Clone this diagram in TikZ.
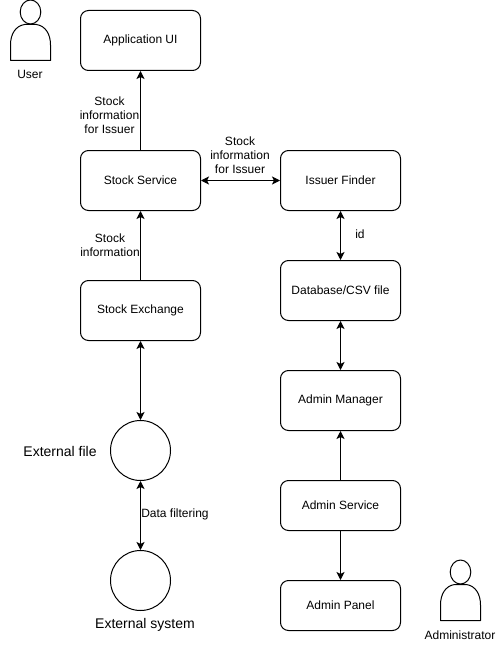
\documentclass[tikz,border=0pt]{standalone}
\usepackage{fontspec}
\setmainfont{Liberation Sans}
\usetikzlibrary{arrows.meta}
\tikzset{
  box/.style={draw=black,line width=1pt,rounded corners=8pt,minimum width=120pt,inner sep=0pt,font=\fontsize{12}{14}\selectfont,fill=white},
  circ/.style={draw=black,line width=1pt,circle,minimum size=60pt,inner sep=0pt},
  lab/.style={font=\fontsize{12}{14}\selectfont,align=center,inner sep=0pt},
  biglab/.style={font=\fontsize{14}{16}\selectfont,align=center,inner sep=0pt},
  conn/.style={line width=1pt,-{Stealth[length=8pt,width=8pt,inset=2pt]}},
  biconn/.style={line width=1pt,{Stealth[length=8pt,width=8pt,inset=2pt]}-{Stealth[length=8pt,width=8pt,inset=2pt]}},
  actorline/.style={draw=black,line width=1pt,line join=round}
}
\newcommand{\actorfig}[2]{%
  \draw[actorline] (#1,#2+12) ellipse (10.3pt and 12pt);
  \draw[actorline] (#1-20,#2+60.5) -- (#1-20,#2+45)
     .. controls (#1-20,#2+34) and (#1-15,#2+26) .. (#1-6,#2+24.5)
     -- (#1+6,#2+24.5)
     .. controls (#1+15,#2+26) and (#1+20,#2+34) .. (#1+20,#2+45)
     -- (#1+20,#2+60.5) -- cycle;
}
\begin{document}
\begin{tikzpicture}[x=1pt,y=-1pt]
\useasboundingbox (0,0) rectangle (496,661);
\fill[white] (0,0) rectangle (496,661);
\begin{scope}[shift={(-0.5,-0.5)}]
\node[box,minimum height=60pt] (ui) at (141,41) {Application UI};
\node[box,minimum height=60pt] (ss) at (141,181) {Stock Service};
\node[box,minimum height=60pt] (se) at (141,311) {Stock Exchange};
\node[box,minimum height=60pt] (if) at (341,181) {Issuer Finder};
\node[box,minimum height=60pt] (db) at (341,291) {Database/CSV file};
\node[box,minimum height=60pt] (am) at (341,401) {Admin Manager};
\node[box,minimum height=50pt] (as) at (341,506) {Admin Service};
\node[box,minimum height=50pt] (ap) at (341,606) {Admin Panel};
\node[circ] (ef) at (141,451) {};
\node[circ] (es) at (141,581) {};
\draw[conn] (ss) -- (ui);
\draw[conn] (se) -- (ss);
\draw[biconn] (ss) -- (if);
\draw[biconn] (if) -- (db);
\draw[biconn] (db) -- (am);
\draw[conn] (as) -- (am);
\draw[conn] (as) -- (ap);
\draw[biconn] (se) -- (ef);
\draw[biconn] (ef) -- (es);
\node[lab] (l1) at (110,115.5) {Stock\\information\\for Issuer};
\node[lab] (l2) at (240.5,155.5) {Stock\\information\\for Issuer};
\node[lab] (l3) at (110.5,245.5) {Stock\\information};
\node[lab] (l4) at (360.5,234.5) {id};
\node[lab] (l5) at (175.5,514.5) {Data filtering};
\node[biglab] (l6) at (60.5,451.5) {External file};
\node[biglab] (l7) at (145.5,625.5) {External system};
\node[lab] (l8) at (30.5,75) {User};
\node[lab] (l9) at (460.5,635.5) {Administrator};
\end{scope}
\actorfig{30.5}{0}
\actorfig{460.5}{560}
\end{tikzpicture}
\end{document}
